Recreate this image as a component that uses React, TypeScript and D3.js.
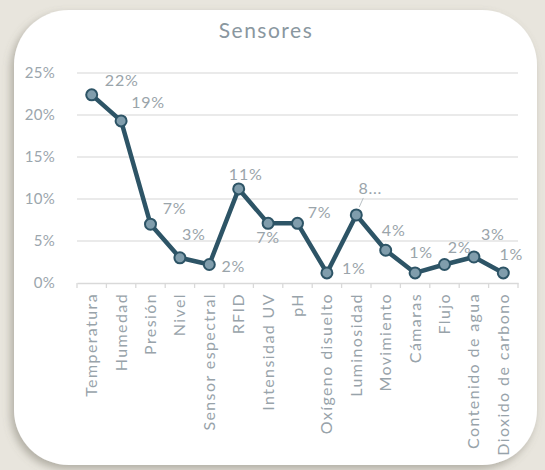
import React, { useEffect, useRef } from "react";
import * as d3 from "d3";

const categories = [
  "Temperatura",
  "Humedad",
  "Presión",
  "Nivel",
  "Sensor espectral",
  "RFID",
  "Intensidad UV",
  "pH",
  "Oxígeno disuelto",
  "Luminosidad",
  "Movimiento",
  "Cámaras",
  "Flujo",
  "Contenido de agua",
  "Dioxido de carbono",
];
const values = [
  0.224, 0.193, 0.07, 0.03, 0.022, 0.112, 0.071, 0.071, 0.012, 0.081, 0.039,
  0.012, 0.022, 0.031, 0.012,
];
const pointLabels = [
  "22%", "19%", "7%", "3%", "2%", "11%", "7%", "7%", "1%", "8...", "4%",
  "1%", "2%", "3%", "1%",
];
const yTicks = [0, 0.05, 0.1, 0.15, 0.2, 0.25];

// label placement relative to its point (center x, center y)
const labelOffsets: [number, number][] = [
  [30, -14], [27, -18], [24, -16], [14, -23], [24, 2], [7, -14], [0, 14],
  [22, -11], [27, -4], [14, -26], [8, -20], [6, -20], [15, -17], [19, -22],
  [8, -18],
];

const W = 545;
const H = 470;
const margin = { left: 77, right: 518, top: 73, bottom: 283 };
const font = "Lato, 'Open Sans', sans-serif";

export default function App() {
  const ref = useRef<SVGSVGElement>(null);

  useEffect(() => {
    const svg = d3.select(ref.current!);
    svg.selectAll("*").remove();

    const defs = svg.append("defs");
    const f = defs
      .append("filter")
      .attr("id", "shadow")
      .attr("x", "-10%")
      .attr("y", "-10%")
      .attr("width", "120%")
      .attr("height", "120%");
    f.append("feDropShadow")
      .attr("dx", -3)
      .attr("dy", 4)
      .attr("stdDeviation", 4)
      .attr("flood-color", "#6b675c")
      .attr("flood-opacity", 0.45);

    svg.append("rect").attr("width", W).attr("height", H).attr("fill", "#e8e5dd");

    // card
    svg
      .append("rect")
      .attr("x", 14)
      .attr("y", 10)
      .attr("width", 523)
      .attr("height", 455)
      .attr("rx", 55)
      .attr("ry", 55)
      .attr("fill", "#ffffff")
      .attr("filter", "url(#shadow)");

    svg
      .append("text")
      .attr("x", 266)
      .attr("y", 38)
      .attr("text-anchor", "middle")
      .attr("font-family", font)
      .attr("font-size", 21)
      .attr("letter-spacing", 1.5)
      .attr("fill", "#8a979f")
      .text("Sensores");

    const x = d3
      .scaleBand<string>()
      .domain(categories)
      .range([margin.left, margin.right]);
    const y = d3
      .scaleLinear()
      .domain([0, 0.25])
      .range([margin.bottom, margin.top]);
    const cx = (i: number) => (x(categories[i]) ?? 0) + x.bandwidth() / 2;

    // grid
    svg
      .append("g")
      .selectAll("line")
      .data(yTicks.filter((t) => t > 0))
      .enter()
      .append("line")
      .attr("x1", margin.left)
      .attr("x2", margin.right)
      .attr("y1", (d) => y(d))
      .attr("y2", (d) => y(d))
      .attr("stroke", "#e3e3e3")
      .attr("stroke-width", 1.3);

    // y axis labels
    svg
      .append("g")
      .selectAll("text")
      .data(yTicks)
      .enter()
      .append("text")
      .attr("x", 55)
      .attr("y", (d) => y(d) + 5)
      .attr("text-anchor", "end")
      .attr("font-family", font)
      .attr("font-size", 15)
      .attr("letter-spacing", 0.3)
      .attr("fill", "#9ba6ad")
      .text((d) => d3.format(".0%")(d));

    // x axis
    const xAxis = svg
      .append("g")
      .attr("transform", `translate(0,${margin.bottom})`)
      .call(d3.axisBottom(x).tickSize(0).tickFormat(() => ""));
    xAxis.select(".domain").attr("stroke", "#d9d9d9").attr("stroke-width", 1.3);
    const edges = d3.range(categories.length + 1).map(
      (i) => margin.left + i * x.step()
    );
    xAxis
      .selectAll("line.edge")
      .data(edges)
      .enter()
      .append("line")
      .attr("class", "edge")
      .attr("x1", (d) => d)
      .attr("x2", (d) => d)
      .attr("y1", 0)
      .attr("y2", 5)
      .attr("stroke", "#d9d9d9")
      .attr("stroke-width", 1.3);

    svg
      .append("g")
      .selectAll("text")
      .data(categories)
      .enter()
      .append("text")
      .attr(
        "transform",
        (d, i) => `translate(${cx(i) + 5.5},${margin.bottom + 10}) rotate(-90)`
      )
      .attr("text-anchor", "end")
      .attr("font-family", font)
      .attr("font-size", 16)
      .attr("letter-spacing", 1.4)
      .attr("fill", "#98a3aa")
      .text((d) => d);

    // line
    const line = d3
      .line<number>()
      .x((d, i) => cx(i))
      .y((d) => y(d));
    svg
      .append("path")
      .datum(values)
      .attr("d", line)
      .attr("fill", "none")
      .attr("stroke", "#2d5466")
      .attr("stroke-width", 4.5)
      .attr("stroke-linejoin", "round");

    svg
      .append("g")
      .selectAll("circle")
      .data(values)
      .enter()
      .append("circle")
      .attr("cx", (d, i) => cx(i))
      .attr("cy", (d) => y(d))
      .attr("r", 5.5)
      .attr("fill", "#809dac")
      .attr("stroke", "#2d5466")
      .attr("stroke-width", 2);

    // leader line for the truncated label
    const li = pointLabels.indexOf("8...");
    svg
      .append("line")
      .attr("x1", cx(li) + 3)
      .attr("y1", y(values[li]) - 8)
      .attr("x2", cx(li) + 7)
      .attr("y2", y(values[li]) - 17)
      .attr("stroke", "#b9c0c4")
      .attr("stroke-width", 1);

    svg
      .append("g")
      .selectAll("text")
      .data(pointLabels)
      .enter()
      .append("text")
      .attr("x", (d, i) => cx(i) + labelOffsets[i][0])
      .attr("y", (d, i) => y(values[i]) + labelOffsets[i][1] + 5.5)
      .attr("text-anchor", "middle")
      .attr("font-family", font)
      .attr("font-size", 16)
      .attr("letter-spacing", 0.8)
      .attr("fill", "#9aa4aa")
      .text((d) => d);
  }, []);

  return (
    <svg
      ref={ref}
      width={W}
      height={H}
      style={{ position: "absolute", left: 0, top: 0 }}
    />
  );
}
